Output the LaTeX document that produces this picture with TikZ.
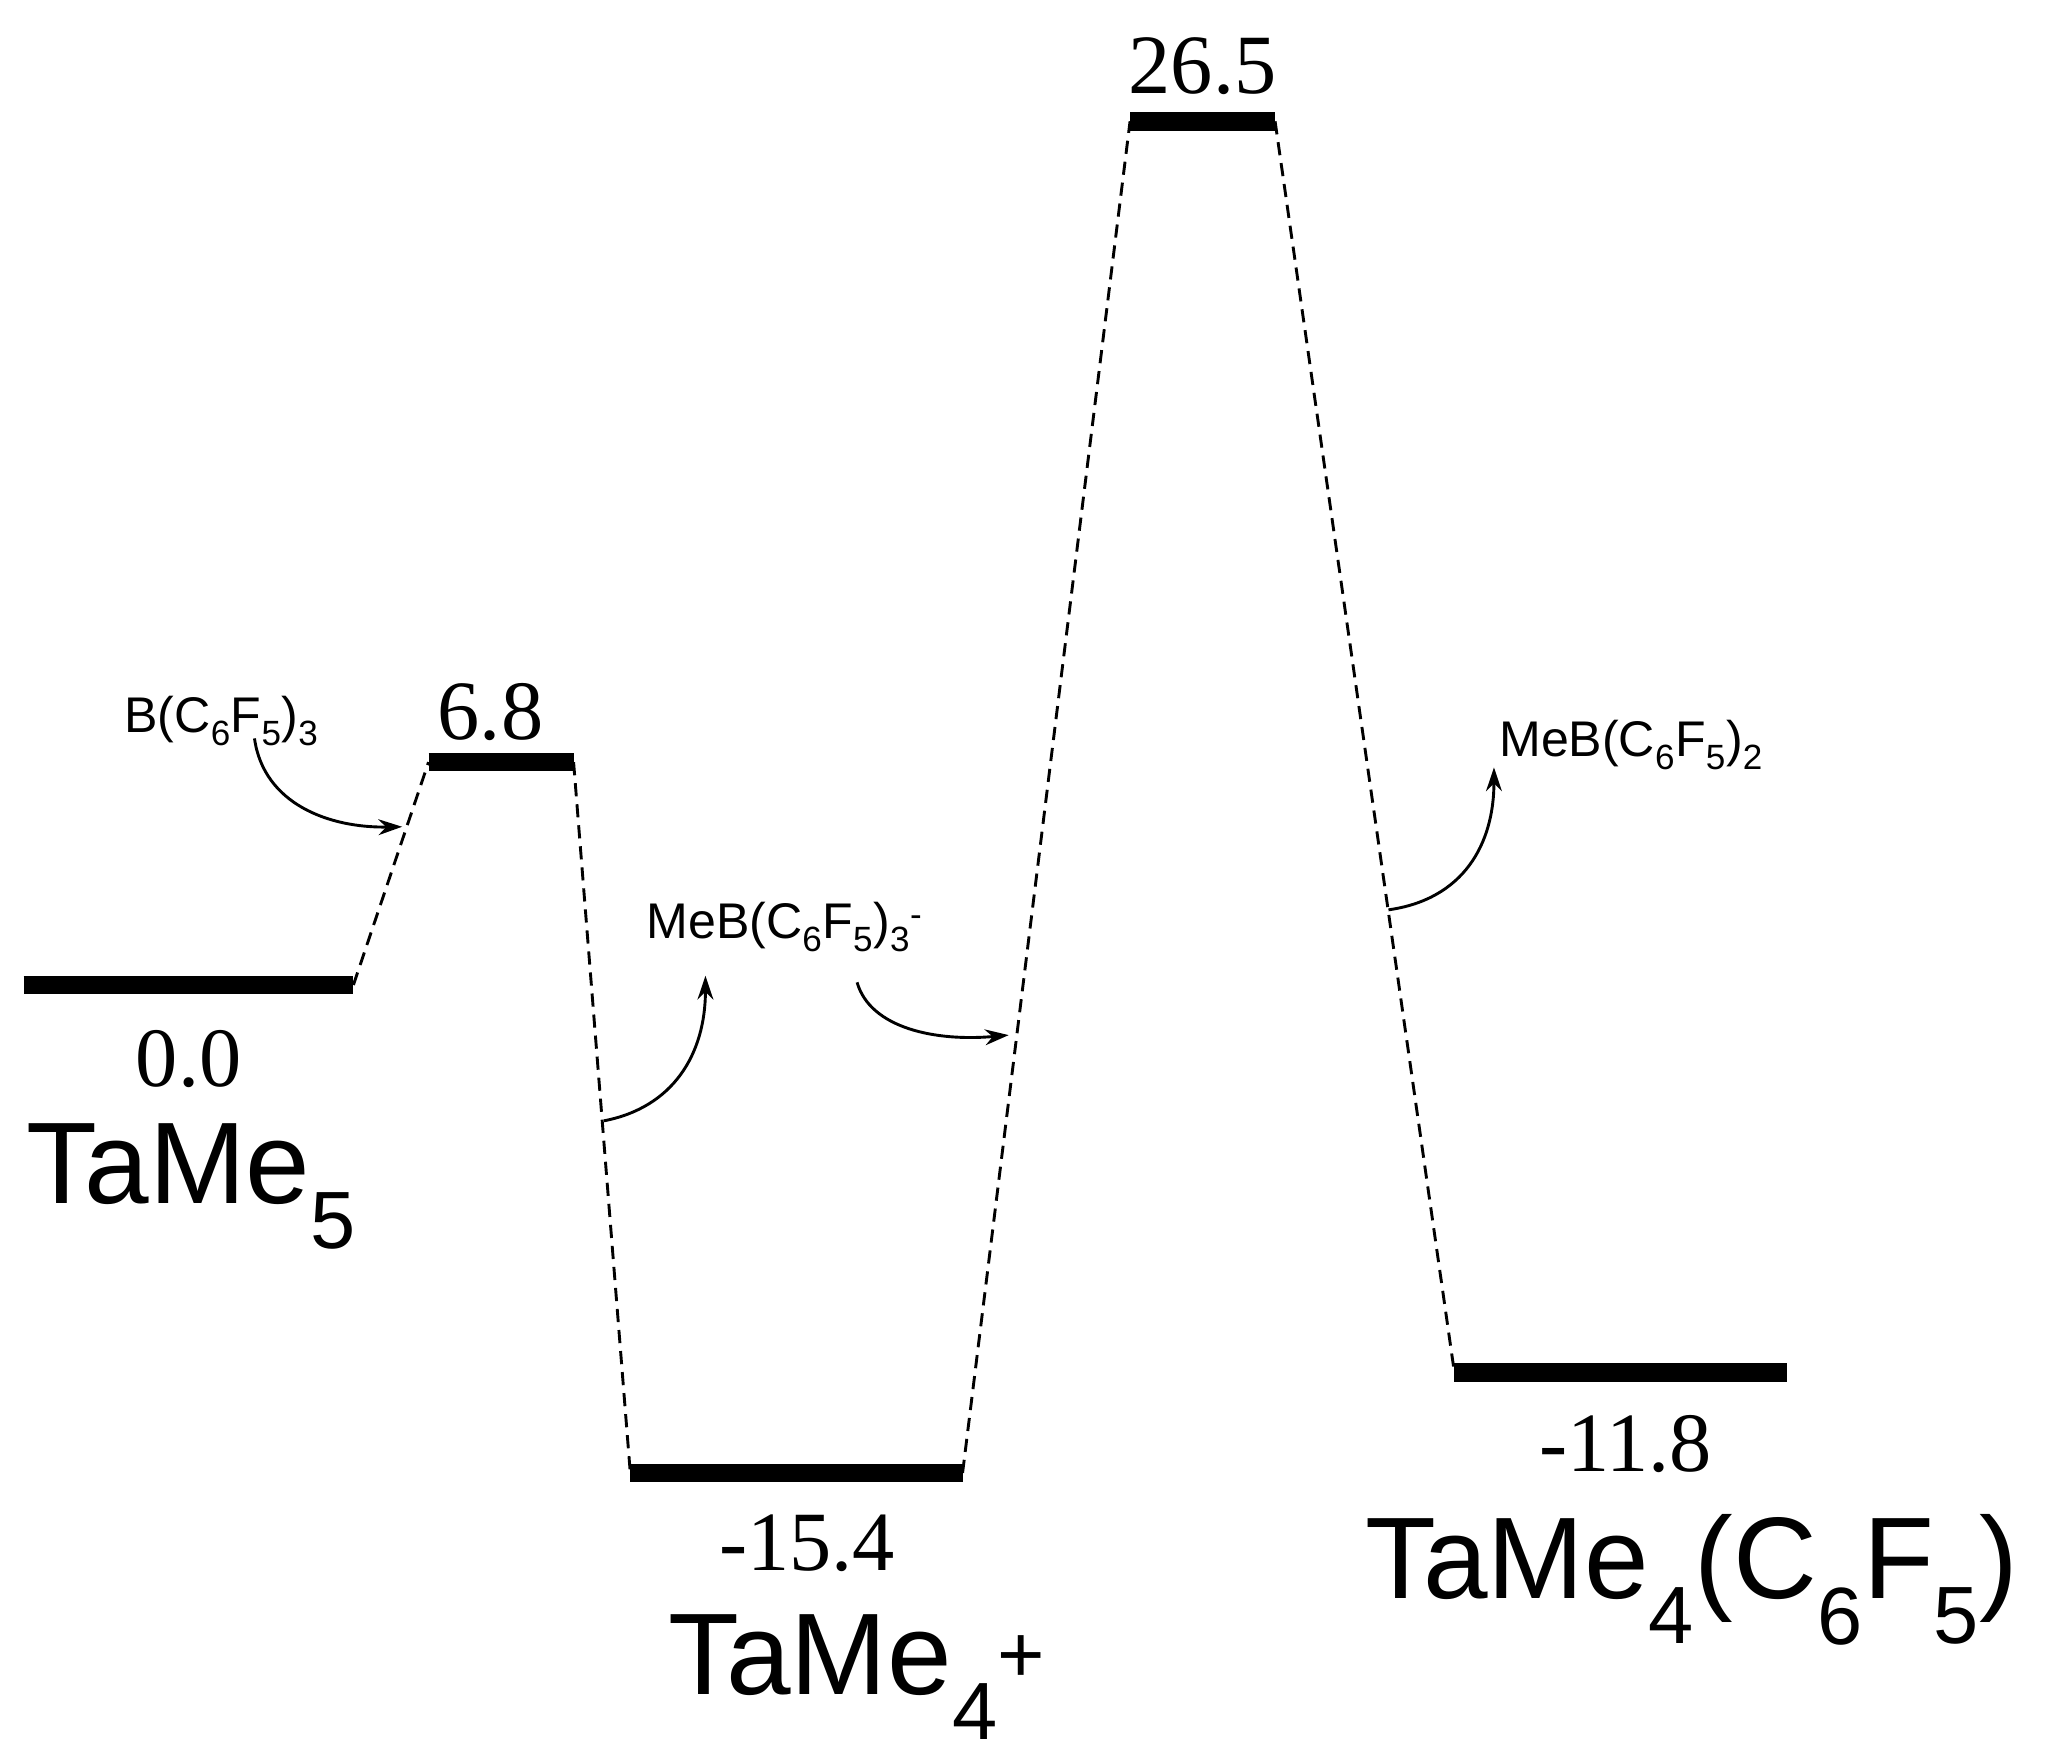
\documentclass[tikz,border=0pt]{standalone}
\usepackage{fontspec}
\setmainfont{Liberation Serif}
\newfontfamily\arialf{Liberation Sans}
\usetikzlibrary{arrows.meta}
\begin{document}
\begin{tikzpicture}[x=1pt,y=-1pt,
  lvl/.style={line width=14pt},
  conn/.style={dashed,line width=2.2pt,dash pattern=on 10pt off 6pt},
  num/.style={font=\fontsize{64}{64}\selectfont},
  big/.style={font=\arialf\fontsize{88}{88}\selectfont},
  small/.style={font=\arialf\fontsize{38}{38}\selectfont},
  arr/.style={line width=2.2pt,-{Stealth[length=18pt,width=12pt]}}]
\useasboundingbox (0,0) rectangle (1560,1336);
\draw[lvl] (18,747) coordinate (a1) -- (268,747) coordinate (a2);
\draw[lvl] (325,578) coordinate (b1) -- (435,578) coordinate (b2);
\draw[lvl] (478,1117) coordinate (c1) -- (730,1117) coordinate (c2);
\draw[lvl] (857,92) coordinate (d1) -- (967,92) coordinate (d2);
\draw[lvl] (1103,1041) coordinate (e1) -- (1355,1041) coordinate (e2);
\draw[conn] (a2) -- (b1);
\draw[conn] (b2) -- (c1);
\draw[conn] (c2) -- (d1);
\draw[conn] (d2) -- (e1);
\node[num] (n0) at (143,803) {0.0};
\node[big] (t0) at (145,900) {TaMe\textsubscript{5}};
\node[num] (n1) at (372,540) {6.8};
\node[num] (n2) at (612,1170) {-15.4};
\node[big] (t2) at (650,1272) {TaMe\textsubscript{4}\textsuperscript{+}};
\node[num] (n3) at (912,50) {26.5};
\node[num] (n4) at (1233,1095) {-11.8};
\node[big] (t4) at (1283,1198) {TaMe\textsubscript{4}(C\textsubscript{6}F\textsubscript{5})};
\node[small] (s1) at (168,547) {B(C\textsubscript{6}F\textsubscript{5})\textsubscript{3}};
\node[small] (s2) at (595,703) {MeB(C\textsubscript{6}F\textsubscript{5})\textsubscript{3}\textsuperscript{-}};
\node[small] (s3) at (1237,565) {MeB(C\textsubscript{6}F\textsubscript{5})\textsubscript{2}};
\coordinate (p1) at (193,560); \coordinate (q1) at (305,627);
\coordinate (p2) at (458,850); \coordinate (q2) at (535,740);
\coordinate (p3) at (650,745); \coordinate (q3) at (765,785);
\coordinate (p4) at (1053,690); \coordinate (q4) at (1133,582);
\draw[arr] (p1) .. controls (200,610) and (250,628) .. (q1);
\draw[arr] (p2) .. controls (510,840) and (535,800) .. (q2);
\draw[arr] (p3) .. controls (660,780) and (710,790) .. (q3);
\draw[arr] (p4) .. controls (1110,682) and (1133,640) .. (q4);
\end{tikzpicture}
\end{document}
